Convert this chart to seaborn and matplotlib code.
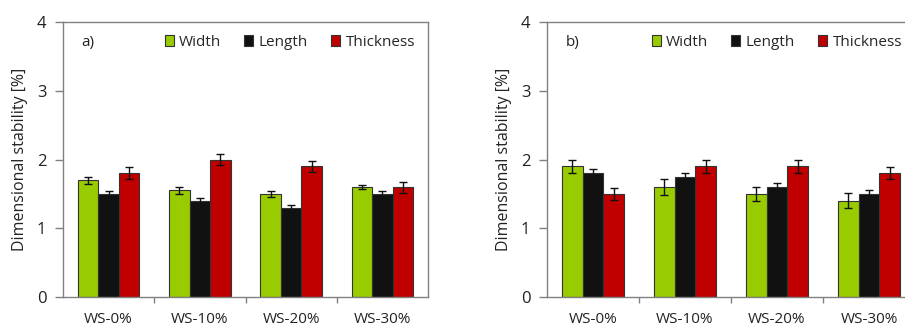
import numpy as np
import pandas as pd
import matplotlib
matplotlib.use("Agg")
import matplotlib.pyplot as plt
from matplotlib.patches import Patch
import seaborn as sns

categories = ["WS-0%", "WS-10%", "WS-20%", "WS-30%"]
series = ["Width", "Length", "Thickness"]

# panel a)
a_width = [1.70, 1.55, 1.50, 1.60]
a_length = [1.50, 1.40, 1.30, 1.50]
a_thick = [1.80, 2.00, 1.90, 1.60]
a_width_err = [0.05, 0.045, 0.04, 0.035]
a_length_err = [0.04, 0.04, 0.045, 0.04]
a_thick_err = [0.09, 0.085, 0.08, 0.08]

# panel b)
b_width = [1.90, 1.60, 1.50, 1.40]
b_length = [1.80, 1.75, 1.60, 1.50]
b_thick = [1.50, 1.90, 1.90, 1.80]
b_width_err = [0.10, 0.11, 0.105, 0.11]
b_length_err = [0.065, 0.06, 0.065, 0.06]
b_thick_err = [0.09, 0.095, 0.095, 0.09]

colors = ["#99CC00", "#111111", "#C00000"]
ytick_vals = [0, 1, 2, 3, 4]

sns.set_theme(style="white")
plt.rcParams["font.family"] = ["Open Sans", "DejaVu Sans"]

W, H = 905, 327
fig = plt.figure(figsize=(W / 100, H / 100), dpi=100)

spine_col = "#808080"


def make_df(vals):
    rows = []
    for s, v in zip(series, vals):
        for c, x in zip(categories, v):
            rows.append({"cat": c, "series": s, "value": x})
    return pd.DataFrame(rows)


def draw_panel(rect, vals, errs, label):
    ax = fig.add_axes(rect)
    df = make_df(vals)
    sns.barplot(data=df, x="cat", y="value", hue="series", order=categories,
                hue_order=series, palette=colors, errorbar=None, width=0.675,
                edgecolor="#333333", linewidth=0.8, ax=ax, legend=False,
                saturation=1)
    for cont, err in zip(ax.containers, errs):
        xs = [p.get_x() + p.get_width() / 2 for p in cont]
        ys = [p.get_height() for p in cont]
        ax.errorbar(xs, ys, yerr=err, fmt="none", ecolor="#111111",
                    elinewidth=1.0, capsize=3, capthick=1.0, zorder=5)
    ax.set_ylim(0, 4)
    ax.set_xlim(-0.5, len(categories) - 0.5)
    ax.set_yticks(ytick_vals)
    ax.set_yticklabels([str(v) for v in ytick_vals], fontsize=12, color="#222222")
    ax.set_xticks(range(len(categories)))
    ax.set_xticklabels(categories, fontsize=11, color="#222222")
    ax.set_xticks(np.arange(0.5, len(categories) - 0.5, 1.0), minor=True)
    ax.tick_params(axis="x", which="major", length=0, pad=11)
    ax.tick_params(axis="x", which="minor", length=4, width=1, color=spine_col,
                   direction="out", bottom=True)
    ax.tick_params(axis="y", length=6, width=1, color=spine_col, left=True,
                   direction="out", pad=6)
    ax.set_xlabel("")
    ax.set_ylabel("Dimensional stability [%]", fontsize=11.5, color="#222222",
                  labelpad=6)
    for sp in ax.spines.values():
        sp.set_color(spine_col)
        sp.set_linewidth(1.0)
    ax.text(0.05, 0.924, label, transform=ax.transAxes, fontsize=11,
            color="#222222", va="center", ha="left")
    handles = [Patch(facecolor=c, edgecolor="#333333", linewidth=0.8)
               for c in colors]
    ax.legend(handles, series, loc="upper right", bbox_to_anchor=(1.0, 1.0),
              ncol=3, frameon=False, fontsize=11, handlelength=0.6,
              handleheight=0.7, handletextpad=0.35, columnspacing=1.5,
              borderaxespad=0.45)
    return ax


bottom = (H - 297) / H
height = 275 / H
draw_panel([63 / W, bottom, 365 / W, height],
           [a_width, a_length, a_thick],
           [a_width_err, a_length_err, a_thick_err], "a)")
draw_panel([547 / W, bottom, 368 / W, height],
           [b_width, b_length, b_thick],
           [b_width_err, b_length_err, b_thick_err], "b)")

fig.savefig("out.png", dpi=100)
